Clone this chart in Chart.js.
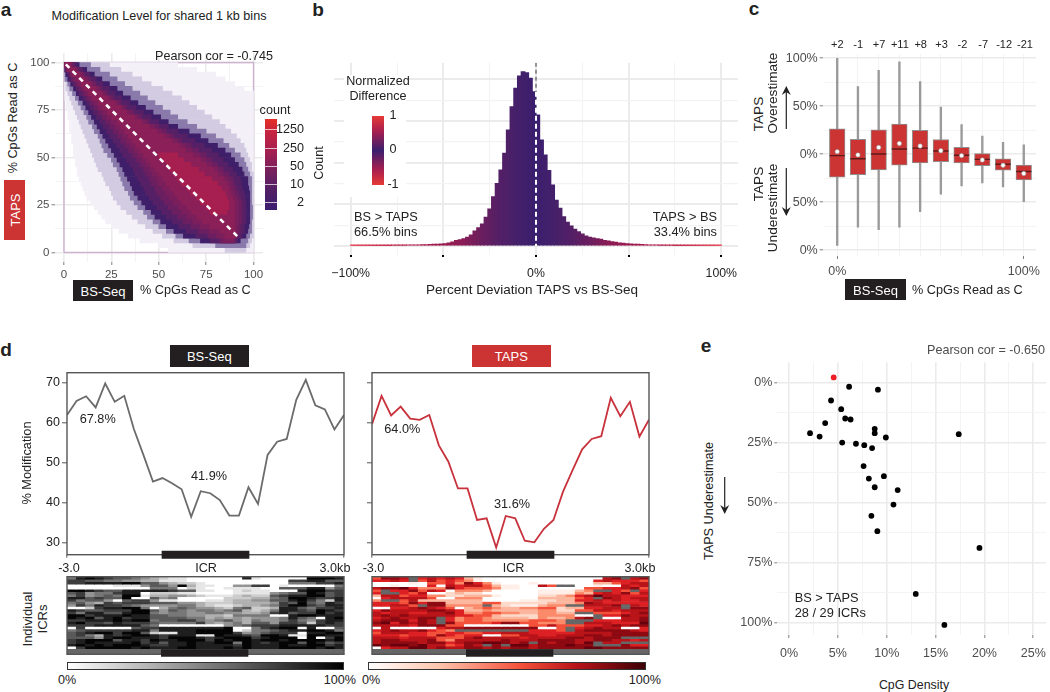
<!DOCTYPE html>
<html>
<head>
<meta charset="utf-8">
<script src="https://cdn.jsdelivr.net/npm/chart.js@4"></script>
<style>
  body { margin: 0; background: #fff; width: 1050px; height: 692px; overflow: hidden; position: relative;
         font-family: "Liberation Sans", Arial, sans-serif; color: #222; }
  canvas { position: absolute; }
  .note { position: absolute; white-space: nowrap; line-height: 1; }
  .block { position: absolute; }
  svg { position: absolute; left: 0; top: 0; }
</style>
</head>
<body>
<script>
// panel a: density, one [left, right] range per row of bins
const rowY = [98.75,96.25,93.75,91.25,88.75,86.25,83.75,81.25,78.75,76.25,73.75,71.25,68.75,66.25,63.75,61.25,58.75,56.25,53.75,51.25,
  48.75,46.25,43.75,41.25,38.75,36.25,33.75,31.25,28.75,26.25,23.75,21.25,18.75,16.25,13.75,11.25,8.75,6.25,3.75,1.25];
const sparseBand = [[0,60],[0,70],[0,80],[0,85],[0,90],[0,95],[0,100],[0,100],[1,100],[1,100],[2,100],[2,100],[3,100],[3,100],[3,100],[4,100],[4,100],[5,100],[5,100],[5,100],
  [6,100],[6,100],[7,100],[7,100],[8,100],[9,100],[10,100],[11,100],[12,100],[14,100],[16,100],[18,100],[20,100],[22,100],[25,100],[29,100],[34,100],[40,100],[50,100],[55,100]];
const thinBand = [[0,24],[0,30],[0,36],[0,41],[1,46],[1,52],[2,57],[3,62],[4,66],[5,70],[6,74],[7,78],[8,82],[9,85],[10,88],[11,91],[12,93],[13,95],[14,96],[15,97],
  [16,98],[17,99],[18,99],[20,100],[21,100],[22,100],[24,100],[25,100],[26,100],[28,100],[30,100],[33,100],[36,100],[39,100],[43,100],[47,100],[52,100],[58,99],[68,98],[85,96]];
const fringeBand = [[0,14],[0,19],[0,24],[0.5,28],[2,32],[3,36],[4.5,40],[6,44],[7.5,48],[9,52],[10.5,56],[12,60],[13,65],[15,70],[16,75],[18,80],[19,84],[20,87],[21,90],[23,93],
  [25,95],[26,96],[28,97],[29,98],[30,99],[31,99],[32,99],[34,99],[35,99],[37,99],[39,99.5],[42,99.5],[44,99.5],[47,99],[50,99],[54,99],[59,98],[66,97],[80,96],null];
const darkBand = [[0,8],[0,12],[1,16],[2,20],[3.5,24],[5,28],[6.5,31],[8,35],[10,39],[11.5,43],[13,47],[14.5,51],[16,55],[17.5,60],[19,66],[20.5,72],[22,76],[23.5,81],[25,85],[26.5,88],
  [28,90],[29.5,92],[31,94],[32,95],[33.5,97],[35,97],[36,97.5],[37,98],[39,98],[41,98],[43,98],[46,98],[48,98],[51,98],[54,97.5],[58,97],[63,96],[72,93],null,null];
const indigoBand = [[0,6.5],[0.5,10],[2,13.5],[3,17],[4.7,20.5],[6.5,24],[8,27],[10,30.5],[12,34.5],[13.7,38],[15.5,42],[17,46],[19,50],[20.7,55],[22.5,60],[24,65],[26,69],[27.7,74],[29.5,78],[31,81.5],
  [33,84],[34.7,86.5],[36.5,89],[37.5,91],[39,93],[40.5,93.5],[42,94],[43,95],[45,95.5],[47,96],[49,96],[51.5,96],[54,96],[57,96],[60.5,95],[64.5,95],[69.5,94],[77,91.5],null,null];
const purpleBand = [[0,5],[1,8],[3,11],[4,14],[6,17],[8,20],[10,23],[12,26],[14,30],[16,33],[18,37],[20,41],[22,45],[24,50],[26,54],[28,58],[30,62],[32,67],[34,71],[36,75],
  [38,78],[40,81],[42,84],[43,87],[45,89],[46,90],[48,91],[49,92],[51,93],[53,94],[55,94],[57,94],[60,94],[63,94],[67,93],[71,93],[76,92],[82,90],null,null];
const wineBand = [[0.2,4.2],[1.5,7],[3.7,9.7],[5.5,12.5],[7.5,15.5],[9.5,18.5],[11.5,21.5],[13.5,24.5],[16,28.5],[18,31.5],[20.5,35],[22.5,39],[25,43],[27,47.5],[29,51.5],[31,55.5],[33,59.5],[35,64],[37,67.5],[39,71.5],
  [41,75],[43,78],[45,81.5],[46.5,84],[48.5,86.5],[50,88],[52,89],[53.5,90],[55.5,91],[57.5,92],[60,92],[62,92],[65,92],[68,92],[72,91.5],[76.5,91.5],[80.5,91],[84,90],null,null];
const plumBand = [[0.5,3.5],[2,6],[4.5,8.5],[7,11],[9,14],[11,17],[13,20],[15,23],[18,27],[20,30],[23,33],[25,37],[28,41],[30,45],[32,49],[34,53],[36,57],[38,61],[40,64],[42,68],
  [44,72],[46,75],[48,79],[50,81],[52,84],[54,86],[56,87],[58,88],[60,89],[62,90],[65,90],[67,90],[70,90],[73,90],[77,90],[82,90],[85,90],null,null,null];
const hotBand = [null,null,null,null,null,null,null,null,null,null,null,null,null,null,null,null,null,null,null,[50,60],
  [52,63],[54,67],[56,71],[58,74],[60,78],[62,81],[65,83],[67,85],[70,86],[72,87],[75,87],[77,86],null,null,null,null,null,null,null,null];
const diagonal = [{x:1,y:99},{x:92,y:8}];

// panel b: histogram, bins 2 wide
const histBins = [-99,-97,-95,-93,-91,-89,-87,-85,-83,-81,-79,-77,-75,-73,-71,-69,-67,-65,-63,-61,-59,-57,-55,-53,-51,-49,-47,-45,-43,-41,-39,-37,-35,-33,-31,-29,-27,-25,-23,-21,-19,-17,-15,-13,-11,-9,-7,-5,-3,-1,
  1,3,5,7,9,11,13,15,17,19,21,23,25,27,29,31,33,35,37,39,41,43,45,47,49,51,53,55,57,59,61,63,65,67,69,71,73,75,77,79,81,83,85,87,89,91,93,95,97,99];
const histCounts = [0.02,0.02,0.02,0.02,0.02,0.03,0.03,0.03,0.03,0.03,0.03,0.04,0.04,0.04,0.04,0.05,0.05,0.05,0.05,0.06,0.06,0.07,0.08,0.09,0.1,0.11,0.14,0.19,0.26,0.3,0.35,0.42,0.53,0.72,0.88,1.06,1.38,1.78,2.37,3.0,3.65,4.45,5.57,6.69,7.57,8.16,8.37,8.32,8.05,7.41,
  6.29,5.09,4.37,3.62,2.93,2.2,1.81,1.41,1.14,0.96,0.8,0.69,0.58,0.48,0.42,0.38,0.35,0.32,0.27,0.24,0.21,0.18,0.14,0.13,0.11,0.1,0.09,0.08,0.07,0.06,0.05,0.05,0.05,0.04,0.04,0.04,0.04,0.03,0.03,0.03,0.03,0.03,0.03,0.02,0.02,0.02,0.02,0.02,0.02,0.02];

// panel c: boxes per BS-Seq bin
const boxLabels = ['+2','-1','+7','+11','+8','+3','-2','-7','-12','-21'];
const whiskerHigh = [100,70.5,87.5,96.3,75.6,49,30.8,19,12.5,9.8];
const whiskerLow = [-95,-76,-78.6,-76,-59.7,-41.7,-33,-30,-34,-49.5];
const boxHigh = [26.4,15.6,25.4,31.5,25,15.3,7.1,0.7,-4.7,-11.2];
const boxLow = [-24,-21.4,-16.3,-11.5,-9,-7.8,-9,-11.9,-16.6,-26.8];
const boxMedian = [-1.4,-4.7,0.3,5.4,6.4,3.4,-1,-5.4,-10.5,-18];
const boxMean = [2.7,-0.7,7.1,11.2,8.5,3.7,-1.4,-6,-11.5,-20];

// panel d: mean profiles over the ICR
const profileX = [-3,-2.793,-2.586,-2.379,-2.172,-1.966,-1.759,-1.552,-1.345,-1.138,-0.931,-0.724,-0.517,-0.31,-0.103,0.103,0.31,0.517,0.724,0.931,1.138,1.345,1.552,1.759,1.966,2.172,2.379,2.586,2.793,3];
const bsProfile = [61.9,65.4,66.6,63.8,69.8,65.2,66.7,58.4,51.9,45.2,46.1,44.8,43.3,36.4,42.8,42.3,40.6,36.7,36.7,43.8,39.6,51.9,55.2,55.9,65.7,70.7,64.3,63.3,58.3,61.9];
const tapsProfile = [59.6,66.7,61.8,64,61,60.7,61.9,54.3,50.2,43.5,43.5,35.6,36,28.7,36.6,36,30.4,30,33.4,35.6,42.7,48.1,53.3,55.9,56.6,66.2,61.6,65.2,56.5,60.7];
const icrSpan = [-0.95,0.95];

// heatmaps: one digit per cell, 0 = 0% and 9 = 100%, "-" = no data
const bsCells = [
  "5898766543 2110000008 1000009998",
  "7766554433 1110000000 0000778866",
  "7788889966 4322100000 0000555778",
  "0000011146 6493110044 7701000005",
  "0000000005 5502100111 1006668846",
  "9987668888 8766110012 1100089977",
  "6745578802 2211000011 1145669867",
  "5745659913 3443211123 2267889967",
  "8867669006 4500000222 3356998778",
  "7566406774 1100011233 4466897528",
  "5643767776 6644322233 3347696587",
  "4758776544 4455321123 3457997688",
  "0027889950 3565443256 2238865778",
  "8766777996 4654554563 2358876987",
  "7588668995 4554455443 3478677978",
  "9978889886 6554433255 5500899888",
  "9896897886 6665534343 4445865089",
  "7788898995 6677545643 5445754788",
  "8977687776 5555743453 6647762787",
  "7778888865 0000000456 7778888877",
  "0700000677 8888888900 5789908006",
  "5677777885 8888999902 5567889985",
  "6789979962 1188999974 5677708899",
  "6753878998 7888119887 6998119988",
  "6664899888 7999878999 7899909079",
  "7899968879 8899979899 8998999989",
  "7898888978 6889889959 8789969867",
  "8989899987 7889888879 8889889978",
  "0799999898 8899888989 8889999898"
];
const tapsCells = [
  "5887-67676 3100000000 0000078-78",
  "6676-57565 4100000000 0000676665",
  "0000105564 8641000100 0000335677",
  "0010006076 7753110075 --00100767",
  "7889644486 5554110000 0005566785",
  "5-66857604 4430000011 1134--65-6",
  "6--6570023 2200000011 1143676857",
  "3775664422 3331000022 3467977666",
  "0677775004 4400000033 3356-87677",
  "4--5733333 3300001122 3366767667",
  "6665868833 3355222223 3348766666",
  "66775-8844 44-3211134 4--7778-76",
  "0066787650 3454334455 2336677-88",
  "6877778876 3343333344 2255776777",
  "7677667786 4455443344 33--555678",
  "7878777776 6553222244 4400-66877",
  "6787788-64 5543333243 3478-00778",
  "7888687-64 5544444555 4---666778",
  "8968787-85 5556885544 4--7776669",
  "7777688855 0000000557 5556678788",
  "0700000677 8888888800 5-67877006",
  "678778654- -------666 5-78888876",
  "5777665566 5566777666 6677778888",
  "6665665865 6600557766 7778878888",
  "7776777555 7877776777 7887888---",
  "7887778547 7777877788 8877887767",
  "7888878867 8899878-87 8879-77---",
  "9899897756 87-8-99788 8988---866",
  "0677997877 8878788788 8889988888"
];
const icrCols = [10.18,19.64];

// panel e: one point per ICR
const icrDensity = [6.15,9.1,4.3,5.34,5.75,6.3,3.7,8.77,8.77,2.15,3.13,9.91,17.37,5.44,6.85,7.7,8.5,7.63,9.71,8.17,8.77,11.12,10.69,8.43,9.04,19.49,12.97,15.9];
const icrUnder = [1.67,2.9,7.4,11,14.9,15.3,16.8,19.2,21,21,22.4,22.8,21.4,24.9,25.4,26,27.2,34.7,38.9,39.9,43.5,44.7,50.7,55.4,61.8,68.75,87.9,100.8];
const outlierIcr = [{x:4.57,y:-2.2}];

const GREY = '#4d4d4d';
const DARK = '#231f20';
const RED = '#cc3333';
Chart.defaults.font.family = '"Liberation Sans", Arial, sans-serif';
Chart.defaults.font.size = 12;
Chart.defaults.animation = false;

// linear axis with exact ticks and a fixed thickness so the plot area lands where it should
function axis(o) {
  const major = o.major || [], minor = o.minor || [];
  const isMajor = c => !!c.tick && major.includes(c.tick.value);
  return {
    type: 'linear', min: o.min, max: o.max, reverse: !!o.reverse, display: o.display !== false, offset: false,
    afterBuildTicks: s => { s.ticks = major.concat(minor).map(v => ({value: v})); },
    afterFit: s => {
      if (s.isHorizontal()) s.height = o.size; else s.width = o.size;
      s.paddingLeft = s.paddingRight = s.paddingTop = s.paddingBottom = 0;
    },
    ticks: {
      autoSkip: false, maxRotation: 0, minRotation: 0, padding: o.pad === undefined ? 2 : o.pad,
      color: o.textColor || GREY, font: {size: o.fontSize || 12.5},
      callback: v => major.includes(v) && o.labels ? o.labels[major.indexOf(v)] : ''
    },
    border: {display: false},
    grid: {
      display: o.grid !== false, offset: false,
      drawOnChartArea: o.grid !== false && !o.noArea,
      color: c => isMajor(c) ? (o.majorColor || '#ebebeb') : (o.minorColor || '#f3f3f3'),
      lineWidth: c => isMajor(c) ? (o.majorWidth || 1.6) : (o.minorWidth || 0.9),
      tickLength: o.tickLength === undefined ? 3 : o.tickLength,
      tickColor: c => isMajor(c) ? (o.tickColor || '#7f7f7f') : 'rgba(0,0,0,0)',
      tickWidth: o.tickWidth || 1
    }
  };
}

// box outline goes over the data but under the ICR bar (dataset 0, drawn last)
const framePlugin = {
  id: 'frame',
  afterDatasetDraw(chart, args) {
    if (args.index !== 1) return;
    const a = chart.chartArea, ctx = chart.ctx;
    ctx.save();
    ctx.strokeStyle = '#555';
    ctx.lineWidth = 1.4;
    ctx.strokeRect(a.left, a.top, a.right - a.left, a.bottom - a.top);
    ctx.restore();
  }
};

// box = canvas left, top, width, height; m = margins between canvas edge and plot area
function place(box, m, cfg) {
  const c = document.createElement('canvas');
  c.width = box[2]; c.height = box[3];
  c.style.left = box[0] + 'px'; c.style.top = box[1] + 'px';
  c.style.width = box[2] + 'px'; c.style.height = box[3] + 'px';
  document.body.appendChild(c);
  const o = cfg.options = cfg.options || {};
  o.responsive = false;
  o.devicePixelRatio = 1;
  o.plugins = Object.assign({legend: {display: false}, tooltip: {enabled: false}}, o.plugins);
  o.layout = {padding: {
    top: m.t, right: m.r,
    bottom: o.scales.x.display === false ? m.b : 0,
    left: o.scales.y.display === false ? m.l : 0
  }};
  return new Chart(c, cfg);
}

function note(text, x, y, opt) {
  opt = opt || {};
  const d = document.createElement('div');
  d.className = 'note';
  d.textContent = text;
  d.style.left = x + 'px';
  d.style.top = y + 'px';
  d.style.fontSize = (opt.size || 12.6) + 'px';
  d.style.color = opt.color || '#222';
  if (opt.bold) d.style.fontWeight = 'bold';
  const tx = opt.align === 'left' ? '0' : opt.align === 'right' ? '-100%' : '-50%';
  d.style.transform = opt.rot
    ? 'translate(-50%,-50%) rotate(-90deg)'
    : 'translate(' + tx + ',-50%)';
  document.body.appendChild(d);
}

function block(x, y, w, h, bg, border) {
  const d = document.createElement('div');
  d.className = 'block';
  d.style.cssText += 'left:' + x + 'px;top:' + y + 'px;width:' + w + 'px;height:' + h + 'px;background:' + bg + ';' + (border ? 'box-sizing:border-box;border:1px solid ' + border + ';' : '');
  document.body.appendChild(d);
}

function tag(text, x, y, w, h, bg, rot) {
  block(x, y, w, h, bg);
  note(text, x + w / 2, y + h / 2, {color: '#fff', rot: rot, size: 13});
}

function toBars(band) {
  return band.map((p, i) => p && {x: p, y: rowY[i]}).filter(Boolean);
}
function bandSet(band, color) {
  return {type: 'bar', indexAxis: 'y', data: toBars(band), backgroundColor: color, borderWidth: 0,
          grouped: false, barPercentage: 1, categoryPercentage: 1};
}

// ---- a ----
place([20, 45, 250, 240], {l: 34.5, t: 8, r: 7, b: 23}, {
  type: 'bar',
  data: {datasets: [
    {type: 'line', data: diagonal, borderColor: '#fff', borderWidth: 2.6, borderDash: [5, 4.5], pointRadius: 0},
    bandSet(hotBand, '#a61f4f'),
    bandSet(plumBand, '#8b1f58'),
    bandSet(wineBand, '#7b1f5c'),
    bandSet(purpleBand, '#6b1f60'),
    bandSet(indigoBand, '#552065'),
    bandSet(darkBand, '#3f1f69'),
    bandSet(fringeBand, '#8a7aab'),
    bandSet(thinBand, '#d3cbe1'),
    bandSet(sparseBand, '#f3f0f7'),
    {type: 'line', data: [{x:0,y:0},{x:0,y:100},{x:100,y:100},{x:100,y:0},{x:0,y:0}], borderColor: '#cdb3d0', borderWidth: 1.4, pointRadius: 0, clip: false}
  ]},
  options: {scales: {
    x: axis({min: -5, max: 105, size: 23, major: [0,25,50,75,100], minor: [12.5,37.5,62.5,87.5], labels: ['0','25','50','75','100'], fontSize: 11.5, pad: 3}),
    y: axis({min: -5, max: 105, size: 34.5, major: [0,25,50,75,100], minor: [12.5,37.5,62.5,87.5], labels: ['0','25','50','75','100'], fontSize: 11.5})
  }}
});

// ---- b ----
// colour key of the histogram, by distance from 0
const diffStops = [[0,[58,31,110]],[10,[69,32,106]],[20,[84,31,101]],[30,[110,30,94]],[40,[140,28,85]],[60,[168,26,77]],[100,[232,80,96]]];
function diffColor(v) {
  const a = Math.abs(v);
  for (let i = 1; i < diffStops.length; i++) {
    if (a <= diffStops[i][0]) {
      const p = diffStops[i - 1], q = diffStops[i], t = (a - p[0]) / (q[0] - p[0]);
      return 'rgb(' + p[1].map((c, k) => Math.round(c + (q[1][k] - c) * t)).join(',') + ')';
    }
  }
  return 'rgb(232,80,96)';
}
place([320, 55, 425, 225], {l: 14, t: 7.7, r: 7, b: 25}, {
  type: 'bar',
  data: {datasets: [
    {type: 'line', data: [{x:0,y:8.8},{x:0,y:7.4}], borderColor: '#8a8a8a', borderWidth: 1.8, borderDash: [4, 3], pointRadius: 0},
    {type: 'line', data: [{x:0,y:7.4},{x:0,y:0}], borderColor: '#fff', borderWidth: 2, borderDash: [5, 3], pointRadius: 0},
    {data: histBins.map((b, i) => ({x: b, y: histCounts[i]})), backgroundColor: histBins.map(diffColor), borderWidth: 0, inflateAmount: 0.5, barPercentage: 1, categoryPercentage: 1}
  ]},
  options: {scales: {
    x: axis({min: -109, max: 109, size: 25, major: [-100,-50,0,50,100], minor: [-75,-25,25,75], labels: ['\u2212100%','','0%','','100%'], textColor: '#222', fontSize: 12.3, tickColor: '#000', tickLength: 2, tickWidth: 2, pad: 9, majorWidth: 2, minorWidth: 1}),
    y: axis({min: -0.432, max: 8.8, size: 14, major: [0,2,4,6,8], minor: [1,3,5,7], tickLength: 0, majorWidth: 2, minorWidth: 1.3})
  }}
});

// ---- c ----
const catX = boxLabels.map((_, i) => i);
place([780, 45, 265, 235], {l: 42.7, t: 4, r: 7.7, b: 24}, {
  type: 'bar',
  data: {datasets: [
    {type: 'scatter', data: catX.map(i => ({x: i, y: boxMean[i]})), pointBackgroundColor: '#fff', pointBorderColor: '#999', pointBorderWidth: 0.6, pointRadius: 2.2},
    {type: 'scatter', data: catX.map(i => ({x: i, y: boxMedian[i]})), pointStyle: 'line', pointRadius: 7.6, pointBorderColor: '#5e1a1a', pointBorderWidth: 1.4},
    {data: catX.map(i => ({x: i, y: [boxLow[i], boxHigh[i]]})), backgroundColor: RED, borderColor: '#8f8f8f', borderWidth: 1, borderSkipped: false, barThickness: 15.6, grouped: false},
    {data: catX.map(i => ({x: i, y: [whiskerLow[i], whiskerHigh[i]]})), backgroundColor: '#9a9a9a', borderWidth: 0, barThickness: 1.7, grouped: false}
  ]},
  options: {scales: {
    x: axis({min: -0.7, max: 9.59, size: 24, major: [0,9], minor: [1,2,3,4,5,6,7,8], labels: ['0%','100%'], fontSize: 12.5, pad: 5, majorWidth: 0.9, majorColor: '#f0f0f0', minorColor: '#f0f0f0'}),
    y: axis({min: -106, max: 104.4, size: 42.7, major: [-100,-50,0,50,100], minor: [-75,-25,25,75], labels: ['0%','50%','0%','50%','100%'], fontSize: 12.5})
  }}
});

// ---- d line plots ----
function profileChart(left, width, series, color, yLabels) {
  place([left - 40, 368, width + 50, 195], {l: 40, t: 4.7, r: 10, b: 8.3}, {
    type: 'line',
    data: {datasets: [
      {data: icrSpan.map(x => ({x: x, y: 26.9})), borderColor: DARK, borderWidth: 8, pointRadius: 0, clip: false, order: 0},
      {data: profileX.map((x, i) => ({x: x, y: series[i]})), borderColor: color, borderWidth: 1.8, pointRadius: 0, order: 1}
    ]},
    options: {scales: {
      x: axis({min: -3, max: 3, size: 8.3, major: [-3,3], grid: true, noArea: true, tickColor: '#555'}),
      y: axis({min: 26.9, max: 72.5, size: 40, major: [30,40,50,60,70], labels: yLabels, noArea: true, tickLength: 5, tickColor: '#555', textColor: '#222', fontSize: 12.5})
    }},
    plugins: [framePlugin]
  });
}
profileChart(66.7, 277.6, bsProfile, '#6b6b6b', ['30','40','50','60','70']);
profileChart(371.7, 277.4, tapsProfile, '#c8323c', ['','','','','']);

// ---- d heatmaps ----
function heatChart(left, width, cells, palette) {
  const rows = cells.map(r => r.replace(/ /g, ''));
  const sets = rows.map((r, ri) => ({
    data: r.split('').map((_, ci) => ({x: ci + 0.5, y: [ri, ri + 1]})),
    backgroundColor: r.split('').map(c => c === '-' ? '#666' : palette[+c]),
    borderWidth: 0, grouped: false, barPercentage: 1, categoryPercentage: 1
  }));
  sets.unshift({type: 'line', data: icrCols.map(x => ({x: x, y: 30.74})), borderColor: DARK, borderWidth: 7.5, pointRadius: 0, clip: false});
  const band = {data: [], backgroundColor: [], borderWidth: 0, grouped: false, barPercentage: 1, categoryPercentage: 1};
  for (let ci = 0; ci < 30; ci++) { band.data.push({x: ci + 0.5, y: [29, 31.3]}); band.backgroundColor.push('#666'); }
  sets.push(band);
  place([left - 3, 574, width + 6, 88], {l: 3, t: 2.7, r: 3, b: 7.7}, {
    type: 'bar',
    data: {datasets: sets},
    options: {scales: {
      x: {type: 'linear', display: false, min: 0, max: 30, offset: false},
      y: {type: 'linear', display: false, min: 0, max: 31.26, reverse: true, offset: false}
    }},
    plugins: [framePlugin]
  });
}
const greyRamp = ['#ffffff','#e6e6e6','#cccccc','#b0b0b0','#949494','#777777','#5a5a5a','#3d3d3d','#1f1f1f','#050505'];
const redRamp = ['#ffffff','#ffefe8','#fdd9ca','#fcb69e','#fb8a6a','#f4513a','#dc2024','#b81419','#8d0a12','#67000d'];
heatChart(66.7, 277.6, bsCells, greyRamp);
heatChart(371.7, 277.4, tapsCells, redRamp);

// ---- e ----
place([735, 355, 315, 320], {l: 42.3, t: 7.3, r: 0, b: 40}, {
  type: 'scatter',
  data: {datasets: [
    {data: outlierIcr, pointBackgroundColor: '#ee1c25', pointBorderWidth: 0, pointRadius: 2.9},
    {data: icrDensity.map((x, i) => ({x: x, y: icrUnder[i]})), pointBackgroundColor: '#000', pointBorderWidth: 0, pointRadius: 2.9}
  ]},
  options: {scales: {
    x: axis({min: -1.2, max: 26.3, size: 40, major: [0,5,10,15,20,25], minor: [2.5,7.5,12.5,17.5,22.5], labels: ['0%','5%','10%','15%','20%','25%'], fontSize: 12.5, pad: 8}),
    y: axis({min: -8.5, max: 105, reverse: true, size: 42.3, major: [0,25,50,75,100], minor: [12.5,37.5,62.5,87.5], labels: ['0%','25%','50%','75%','100%'], fontSize: 12.5})
  }}
});

// ---- overlays: text, tags, colour keys ----
note('a', 6, 9, {size: 19, bold: true});
note('b', 318, 9, {size: 19, bold: true});
note('c', 754, 8, {size: 19, bold: true});
note('d', 6, 349, {size: 19, bold: true});
note('e', 706, 345, {size: 19, bold: true});

// a
note('Modification Level for shared 1 kb bins', 159, 16);
note('Pearson cor = -0.745', 214, 56);
note('% CpGs Read as C', 13, 118, {rot: true, size: 12.7});
tag('TAPS', 4, 180, 21, 60, RED, true);
tag('BS-Seq', 73, 280, 60, 21, DARK);
note('% CpGs Read as C', 140, 290, {align: 'left', size: 12.7});
note('count', 275, 110);
block(264.5, 119, 12, 91, 'linear-gradient(#e63027 0%, #c4243f 15%, #a51f50 35%, #7a1f5c 55%, #552064 75%, #3b1d6e 100%)');
[129, 148, 166, 184, 202].forEach(y => block(264.5, y, 12, 1, 'rgba(255,255,255,0.7)'));
['1250','250','50','10','2'].forEach((t, i) => note(t, 304, [129,148,166,184,202][i], {align: 'right'}));

// b
block(344, 75, 62, 122, '#fff');
note('Normalized', 378, 81);
note('Difference', 378, 96);
block(371.7, 115.7, 12.6, 69.3, 'linear-gradient(#e63a35 0%, #a81f4f 22%, #3b1f6e 50%, #a81f4f 78%, #e63a35 100%)');
note('1', 393, 115);
note('0', 393, 149);
note('-1', 393, 184);
note('Count', 319, 163, {rot: true});
note('BS > TAPS', 354, 216.5, {align: 'left', size: 12.8});
note('66.5% bins', 354, 232, {align: 'left', size: 12.8});
note('TAPS > BS', 717, 216.5, {align: 'right', size: 12.8});
note('33.4% bins', 717, 232, {align: 'right', size: 12.8});
note('Percent Deviation TAPS vs BS-Seq', 532, 290, {size: 13.5});

// c
boxLabels.forEach((t, i) => note(t, 837.3 + i * 20.85, 44, {size: 11}));
note('TAPS', 759, 114, {rot: true, size: 13.6});
note('Overestimate', 773, 93, {rot: true, size: 13.6});
note('TAPS', 759, 184, {rot: true, size: 13.6});
note('Underestimate', 773, 208, {rot: true, size: 13.6});
tag('BS-Seq', 845, 279, 61, 21, DARK);
note('% CpGs Read as C', 912, 290, {align: 'left', size: 12.7});

// d
tag('BS-Seq', 169.7, 345.3, 79.3, 21.4, DARK);
tag('TAPS', 471.7, 345.3, 79.3, 21.4, RED);
note('% Modification', 27, 463, {rot: true, size: 12.8});
note('67.8%', 97.7, 419, {size: 12.7});
note('41.9%', 209, 476, {size: 12.7});
note('64.0%', 402.3, 429, {size: 12.7});
note('31.6%', 512, 504, {size: 12.7});
[[69,206,335],[373.5,513.5,640]].forEach(xs => {
  note('-3.0', xs[0], 568);
  note('ICR', xs[1], 568);
  note('3.0kb', xs[2], 568);
});
note('Individual', 27, 619, {rot: true, size: 13});
note('ICRs', 42, 619, {rot: true, size: 13});
block(66.7, 662, 277.6, 8, 'linear-gradient(90deg,#fff,#000)', '#333');
block(368.3, 662, 277.7, 8, 'linear-gradient(90deg,#fff,#fdc5ae 25%,#f4513a 55%,#b81419 75%,#3d0006)', '#333');
note('0%', 67, 680);
note('100%', 356, 680, {align: 'right'});
note('0%', 371, 680);
note('100%', 661, 680, {align: 'right'});

// e
note('Pearson cor = -0.650', 986, 350, {color: GREY});
note('TAPS Underestimate', 709, 501, {rot: true, size: 12.7});
note('BS > TAPS', 794.7, 597.7, {align: 'left', size: 12.8});
note('28 / 29 ICRs', 794.7, 612.7, {align: 'left', size: 12.8});
note('CpG Density', 914, 685, {size: 12.4});

// arrows
const svgNS = 'http://www.w3.org/2000/svg';
const svg = document.createElementNS(svgNS, 'svg');
svg.setAttribute('width', 1050); svg.setAttribute('height', 692);
[[786.3,129,786.3,86],[786.3,168,786.3,216],[724.7,477,724.7,514]].forEach(a => {
  const dir = a[3] > a[1] ? 1 : -1;
  const line = document.createElementNS(svgNS, 'line');
  line.setAttribute('x1', a[0]); line.setAttribute('y1', a[1]); line.setAttribute('x2', a[2]); line.setAttribute('y2', a[3] - dir * 6);
  line.setAttribute('stroke', '#222'); line.setAttribute('stroke-width', 1.2);
  svg.appendChild(line);
  const head = document.createElementNS(svgNS, 'polygon');
  head.setAttribute('points', (a[2]-4.5) + ',' + (a[3]-dir*9) + ' ' + a[2] + ',' + a[3] + ' ' + (a[2]+4.5) + ',' + (a[3]-dir*9) + ' ' + a[2] + ',' + (a[3]-dir*6));
  head.setAttribute('fill', '#222');
  svg.appendChild(head);
});
document.body.appendChild(svg);
</script>
</body>
</html>
